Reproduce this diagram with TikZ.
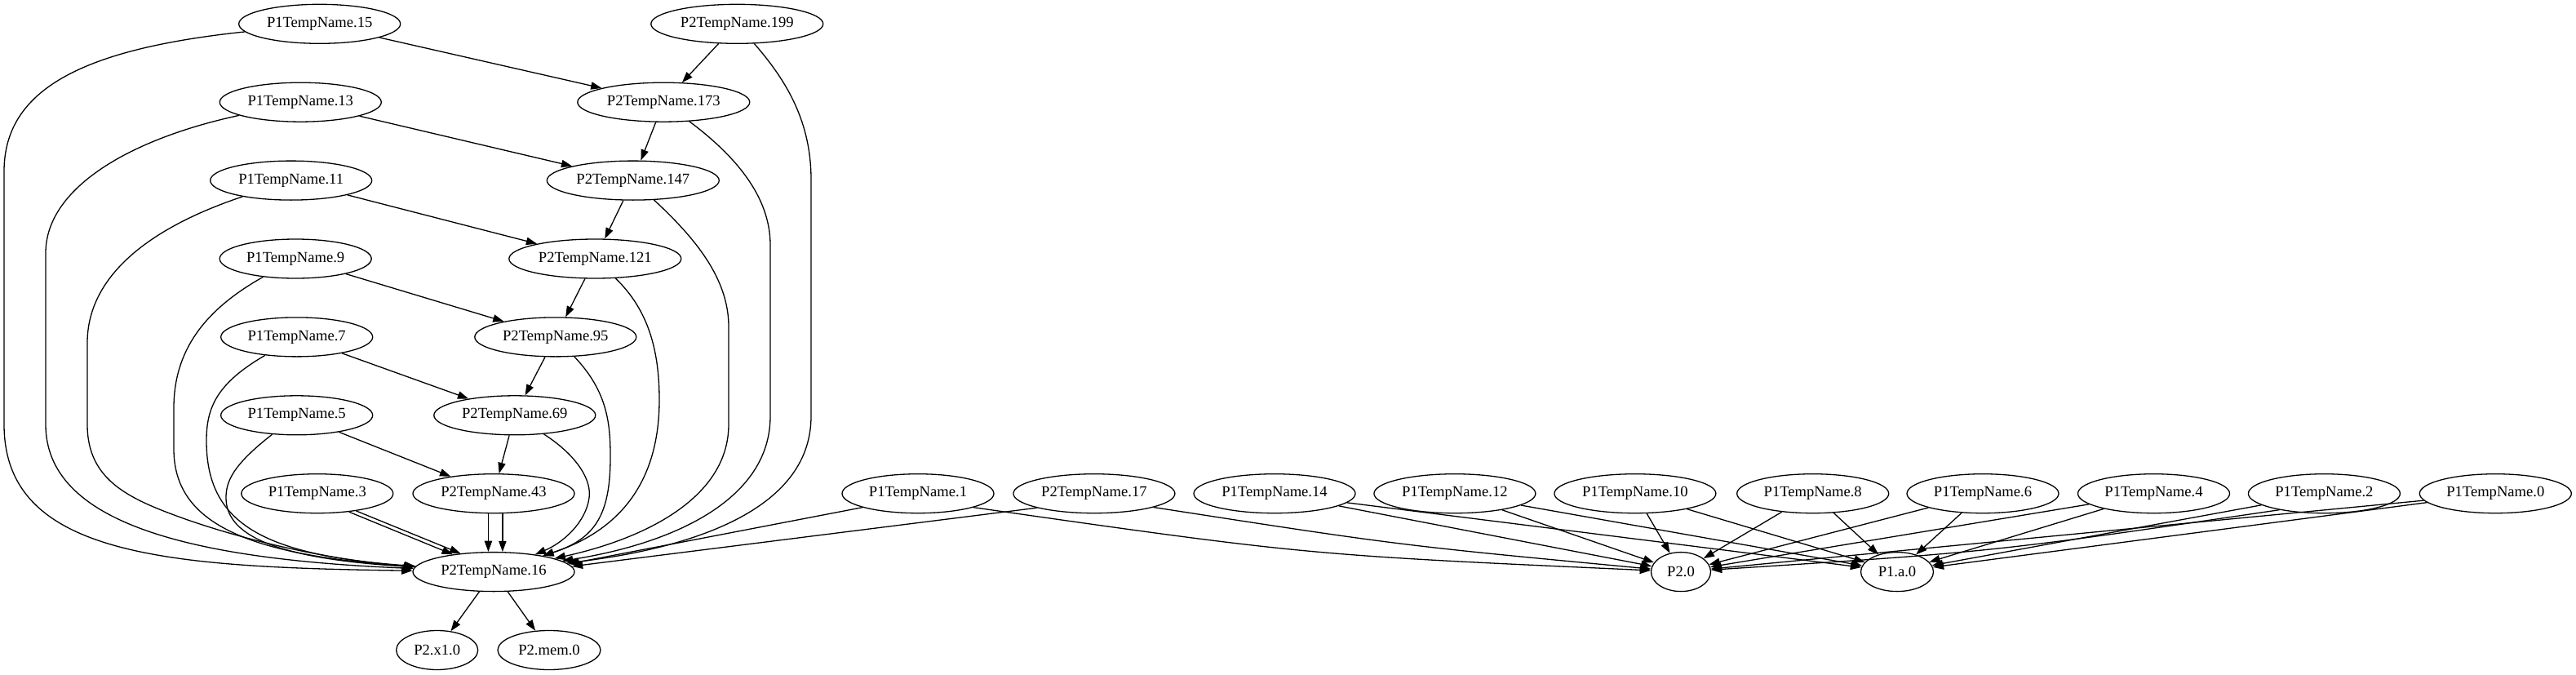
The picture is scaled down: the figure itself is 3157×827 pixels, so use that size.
\documentclass[tikz,border=0pt]{standalone}
\usepackage{fontspec}
\setmainfont{Liberation Serif}
\usetikzlibrary{shapes.geometric,arrows.meta}
\begin{document}
\begin{tikzpicture}[x=1pt,y=-1pt,
  nd/.style={ellipse,draw,line width=1.3pt,inner sep=0pt,minimum height=48pt,font=\fontsize{18.6}{22}\selectfont},
  wA/.style={nd,minimum width=186pt},
  wB/.style={nd,minimum width=198pt},
  wC/.style={nd,minimum width=211pt},
  edge/.style={draw,line width=1.3pt,-{Triangle[length=13.3pt,width=9.3pt]}}
]
\fill[white] (0,0) rectangle (3157,827);
\useasboundingbox (0,0) rectangle (3157,827);

% left cluster nodes
\node[wB] (p15) at (391.7,29.3) {P1TempName.15};
\node[wC] (p199) at (903.3,29.3) {P2TempName.199};
\node[wB] (p13) at (368.3,125.2) {P1TempName.13};
\node[wC] (p173) at (813.3,125.2) {P2TempName.173};
\node[wB] (p11) at (356.7,221.1) {P1TempName.11};
\node[wC] (p147) at (775.8,221.1) {P2TempName.147};
\node[wA] (p9) at (362.2,317) {P1TempName.9};
\node[wC] (p121) at (729.3,317) {P2TempName.121};
\node[wA] (p7) at (363.7,412.9) {P1TempName.7};
\node[wB] (p95) at (680.8,412.9) {P2TempName.95};
\node[wA] (p5) at (363.7,508.8) {P1TempName.5};
\node[wB] (p69) at (630.8,508.8) {P2TempName.69};
\node[wA] (p3) at (388.8,604.7) {P1TempName.3};
\node[wB] (p43) at (605,604.7) {P2TempName.43};
\node[wB] (p16) at (605,700.6) {P2TempName.16};
\node[nd,minimum width=100pt] (x10) at (535.7,796.5) {P2.x1.0};
\node[nd,minimum width=126pt] (mem0) at (673,796.5) {P2.mem.0};

% right cluster nodes
\node[wA] (p1) at (1125,604.7) {P1TempName.1};
\node[wB] (p17) at (1340.9,604.7) {P2TempName.17};
\node[wB] (p14) at (1562,604.7) {P1TempName.14};
\node[wB] (p12) at (1782.9,604.7) {P1TempName.12};
\node[wB] (p10) at (2003.9,604.7) {P1TempName.10};
\node[wA] (p8) at (2221.7,604.7) {P1TempName.8};
\node[wA] (p6) at (2430,604.7) {P1TempName.6};
\node[wA] (p4) at (2639.5,604.7) {P1TempName.4};
\node[wA] (p2) at (2848.4,604.7) {P1TempName.2};
\node[wA] (p0) at (3058.3,604.7) {P1TempName.0};
\node[nd,minimum width=73pt] (q20) at (2060,700.6) {P2.0};
\node[nd,minimum width=89pt] (qa0) at (2325,700.6) {P1.a.0};

% chain edges
\draw[edge] (p199) -- (p173);
\draw[edge] (p173) -- (p147);
\draw[edge] (p147) -- (p121);
\draw[edge] (p121) -- (p95);
\draw[edge] (p95) -- (p69);
\draw[edge] (p69) -- (p43);
\draw[edge] (p15) -- (p173);
\draw[edge] (p13) -- (p147);
\draw[edge] (p11) -- (p121);
\draw[edge] (p9) -- (p95);
\draw[edge] (p7) -- (p69);
\draw[edge] (p5) -- (p43);
\draw[edge] (p16) -- (x10);
\draw[edge] (p16) -- (mem0);

% left curves into P2TempName.16
\draw[edge] (p15) .. controls (100,60) and (5,110) .. (5,210) -- (5,520) .. controls (5,680) and (200,695) .. (p16);
\draw[edge] (p13) .. controls (160,170) and (56,230) .. (56,310) -- (56,520) .. controls (56,640) and (230,685) .. (p16);
\draw[edge] (p11) .. controls (180,280) and (107,340) .. (107,420) -- (107,520) .. controls (107,590) and (160,612) .. (230,637) .. controls (320,668) and (420,688) .. (p16);
\draw[edge] (p9) .. controls (250,380) and (213,430) .. (213,500) -- (213,550) .. controls (213,640) and (300,680) .. (p16);
\draw[edge] (p7) .. controls (265,470) and (253,500) .. (253,540) .. controls (253,640) and (320,680) .. (p16);
\draw[edge] (p5) .. controls (285,570) and (277,590) .. (277,610) .. controls (277,660) and (350,685) .. (p16);
\draw[edge] (p3.-30) -- (p16.157);
\draw[edge] (p3.-24) -- (p16.151);
\draw[edge] (p43.-105) -- (p16.105);
\draw[edge] (p43.-66) -- (p16.66);

% right curves into P2TempName.16
\draw[edge] (p199) .. controls (965,100) and (994,150) .. (994,220) -- (994,510) .. controls (994,620) and (860,670) .. (p16);
\draw[edge] (p173) .. controls (900,190) and (944,240) .. (944,300) -- (944,510) .. controls (944,610) and (830,665) .. (p16);
\draw[edge] (p147) .. controls (850,290) and (893,340) .. (893,400) -- (893,520) .. controls (893,610) and (790,660) .. (p16);
\draw[edge] (p121) .. controls (795,380) and (808,430) .. (808,490) .. controls (808,590) and (760,650) .. (p16);
\draw[edge] (p95) .. controls (745,480) and (748,520) .. (748,560) .. controls (748,630) and (730,660) .. (p16);
\draw[edge] (p69) .. controls (710,560) and (725,590) .. (722,610) .. controls (718,640) and (690,665) .. (p16);
\draw[edge] (p1.-166) -- (p16.6);
\draw[edge] (p17.-166) -- (p16.4);

% right cluster edges
\draw[edge] (p1.-14) .. controls (1602,680) .. (q20);
\draw[edge] (p17.-13) .. controls (1714,668) .. (q20);
\draw[edge] (p14) -- (q20);
\draw[edge] (p14) -- (qa0);
\draw[edge] (p12) -- (q20);
\draw[edge] (p12) -- (qa0);
\draw[edge] (p10) -- (q20);
\draw[edge] (p10) -- (qa0);
\draw[edge] (p8) -- (q20);
\draw[edge] (p8) -- (qa0);
\draw[edge] (p6) -- (q20);
\draw[edge] (p6) -- (qa0);
\draw[edge] (p4) -- (q20);
\draw[edge] (p4) -- (qa0);
\draw[edge] (p2.-160) .. controls (2444,676) .. (q20);
\draw[edge] (p2) -- (qa0);
\draw[edge] (p0) -- (q20);
\draw[edge] (p0) -- (qa0);
\end{tikzpicture}
\end{document}
